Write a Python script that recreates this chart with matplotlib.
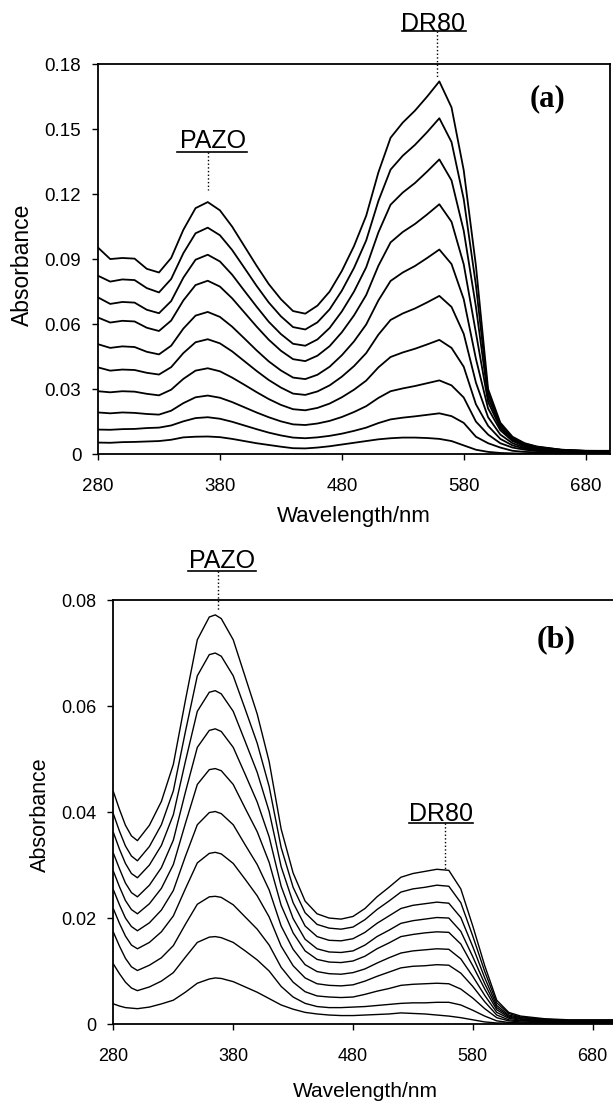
import numpy as np
import matplotlib
matplotlib.use('Agg')
import matplotlib.pyplot as plt

plt.rcParams['font.family'] = ['Liberation Sans', 'DejaVu Sans']

#Wavelength grid and absorbance spectra (top curve first) for panel (a)
wl_a = [280, 290, 300, 310, 320, 330, 340, 350, 360, 370, 380, 390, 400, 410, 420, 430, 440, 450, 460, 470,
        480, 490, 500, 510, 520, 530, 540, 550, 560, 570, 580, 590, 600, 610, 620, 630, 640, 660, 680, 700]
a0 = [.0953, .0900, .0905, .0902, .0855, .0838, .0905, .1035, .1135, .1163, .1125, .1050, .0960, .0870, .0785, .0715, .0660, .0648, .0685, .0750,
      .0845, .0960, .1100, .1300, .1460, .1530, .1585, .1650, .1720, .1600, .1310, .087, .030, .0145, .008, .005, .0035, .002, .0015, .0015]
a1 = [.0823, .0796, .0806, .0803, .0766, .0746, .0808, .0927, .1019, .1045, .1010, .0942, .0860, .0777, .0700, .0636, .0586, .0575, .0608, .0668,
      .0754, .0859, .0986, .1168, .1313, .1377, .1427, .1486, .1550, .1440, .1177, .078, .028, .014, .0075, .0048, .0033, .002, .0015, .0014]
a2 = [.0723, .0693, .0702, .0699, .0666, .0650, .0706, .0814, .0897, .0920, .0889, .0828, .0754, .0681, .0611, .0554, .0509, .0500, .0529, .0582,
      .0658, .0750, .0862, .1023, .1151, .1207, .1251, .1304, .1360, .1263, .1031, .068, .026, .013, .007, .0045, .003, .0019, .0014, .0014]
a3 = [.0630, .0607, .0615, .0612, .0583, .0568, .0616, .0709, .0780, .0800, .0773, .0719, .0654, .0589, .0528, .0477, .0438, .0429, .0454, .0498,
      .0562, .0640, .0734, .0869, .0977, .1025, .1062, .1106, .1153, .1072, .0876, .056, .024, .012, .0065, .004, .0028, .0017, .0013, .0013]
a4 = [.0507, .0490, .0497, .0494, .0472, .0460, .0500, .0579, .0639, .0656, .0633, .0588, .0534, .0479, .0428, .0386, .0353, .0346, .0366, .0403,
      .0456, .0520, .0598, .0709, .0799, .0838, .0868, .0905, .0944, .0877, .0715, .044, .021, .011, .006, .0036, .0025, .0015, .0012, .0012]
a5 = [.0400, .0385, .0390, .0388, .0375, .0367, .0401, .0466, .0516, .0530, .0511, .0474, .0429, .0384, .0342, .0307, .0279, .0273, .0289, .0317,
      .0357, .0406, .0466, .0551, .0619, .0649, .0672, .0700, .0730, .0679, .0555, .033, .017, .009, .005, .003, .0022, .0013, .0011, .0011]
a6 = [.0290, .0285, .0290, .0288, .0278, .0271, .0297, .0347, .0385, .0396, .0382, .0353, .0320, .0286, .0254, .0227, .0207, .0202, .0213, .0233,
      .0262, .0297, .0339, .0400, .0448, .0469, .0486, .0506, .0527, .0490, .0403, .023, .013, .007, .004, .0025, .0018, .0011, .0010, .0010]
a7 = [.0192, .0188, .0192, .0190, .0185, .0182, .0200, .0235, .0262, .0270, .0260, .0240, .0216, .0192, .0170, .0151, .0137, .0134, .0141, .0153,
      .0171, .0194, .0221, .0259, .0290, .0303, .0314, .0327, .0340, .0317, .0261, .015, .009, .005, .003, .002, .0014, .0009, .0008, .0008]
a8 = [.0113, .0112, .0115, .0116, .0120, .0122, .0132, .0151, .0166, .0170, .0163, .0149, .0132, .0115, .0099, .0086, .0076, .0073, .0077, .0084,
      .0094, .0107, .0122, .0143, .0160, .0168, .0174, .0181, .0188, .0175, .0144, .008, .005, .003, .0015, .001, .0008, .0006, .0005, .0005]
a9 = [.0053, .0052, .0055, .0056, .0058, .0060, .0066, .0077, .0080, .0081, .0078, .0070, .0060, .0050, .0042, .0034, .0027, .0026, .0030, .0036,
      .0044, .0052, .0060, .0068, .0073, .0076, .0076, .0074, .0070, .0060, .0040, .002, .001, .0005, .0003, .0002, .0002, .0002, .0002, .0002]

#Wavelength grid and absorbance spectra (top curve first) for panel (b)
wl_b = [280, 285, 290, 295, 300, 310, 320, 330, 340, 350, 360, 365, 370, 380, 390, 400, 410, 420, 430, 440, 450,
        460, 470, 480, 490, 500, 510, 520, 530, 540, 550, 560, 570, 580, 590, 600, 610, 620, 640, 660, 680, 700]
b0 = [.0438, .0405, .0375, .0355, .0346, .0375, .0420, .0490, .0610, .0725, .0768, .0772, .0765, .0725, .0655, .0585, .0495, .0368, .0285, .0232, .0208,
      .0200, .0198, .0203, .0218, .0240, .0258, .0277, .0284, .0288, .0292, .0290, .0255, .0185, .0110, .0045, .0022, .0015, .0010, .0008, .0008, .0008]
b1 = [.0396, .0364, .0336, .0317, .0308, .0335, .0376, .0440, .0551, .0657, .0697, .0700, .0694, .0657, .0594, .0530, .0448, .0333, .0258, .0210, .0188,
      .0181, .0179, .0183, .0197, .0216, .0232, .0249, .0255, .0258, .0262, .0260, .0229, .0166, .0099, .0040, .0020, .0013, .0009, .0007, .0007, .0007]
b2 = [.0361, .0330, .0303, .0284, .0276, .0300, .0337, .0395, .0495, .0590, .0626, .0629, .0623, .0590, .0533, .0475, .0401, .0297, .0229, .0185, .0165,
      .0158, .0157, .0161, .0173, .0190, .0204, .0218, .0224, .0227, .0230, .0228, .0201, .0146, .0087, .0035, .0017, .0012, .0008, .0006, .0006, .0006]
b3 = [.0322, .0293, .0266, .0248, .0240, .0262, .0295, .0347, .0437, .0522, .0554, .0557, .0552, .0522, .0471, .0419, .0353, .0260, .0199, .0160, .0142,
      .0136, .0135, .0138, .0149, .0165, .0177, .0190, .0195, .0198, .0201, .0200, .0175, .0127, .0076, .0031, .0015, .0010, .0007, .0005, .0005, .0005]
b4 = [.0288, .0259, .0233, .0216, .0208, .0227, .0256, .0301, .0378, .0452, .0480, .0482, .0478, .0452, .0407, .0363, .0305, .0224, .0172, .0138, .0122,
      .0117, .0116, .0119, .0128, .0142, .0153, .0165, .0169, .0172, .0174, .0173, .0151, .0110, .0066, .0027, .0013, .0009, .0006, .0005, .0005, .0005]
b5 = [.0253, .0225, .0200, .0184, .0176, .0191, .0215, .0252, .0316, .0376, .0399, .0401, .0397, .0376, .0338, .0301, .0253, .0185, .0141, .0112, .0099,
      .0095, .0094, .0097, .0104, .0115, .0125, .0134, .0138, .0140, .0142, .0141, .0123, .0090, .0054, .0022, .0011, .0007, .0005, .0004, .0004, .0004]
b6 = [.0217, .0190, .0166, .0149, .0142, .0154, .0174, .0204, .0255, .0304, .0322, .0324, .0321, .0303, .0273, .0242, .0202, .0147, .0110, .0087, .0076,
      .0073, .0072, .0074, .0081, .0090, .0098, .0106, .0109, .0110, .0112, .0111, .0096, .0071, .0042, .0017, .0008, .0006, .0004, .0003, .0003, .0003]
b7 = [.0173, .0147, .0124, .0108, .0101, .0111, .0125, .0148, .0188, .0226, .0240, .0241, .0239, .0225, .0202, .0179, .0149, .0107, .0079, .0061, .0053,
      .0051, .0050, .0051, .0056, .0062, .0067, .0073, .0075, .0076, .0077, .0076, .0066, .0049, .0029, .0012, .0006, .0004, .0003, .0002, .0002, .0002]
b8 = [.0113, .0095, .0079, .0068, .0063, .0070, .0081, .0097, .0126, .0154, .0164, .0165, .0163, .0154, .0138, .0121, .0100, .0071, .0051, .0039, .0033,
      .0031, .0031, .0032, .0033, .0035, .0037, .0039, .0040, .0040, .0041, .0041, .0036, .0026, .0015, .0006, .0003, .0002, .0002, .0002, .0002, .0002]
b9 = [.0038, .0034, .0031, .0030, .0029, .0032, .0038, .0045, .0060, .0077, .0085, .0087, .0086, .0080, .0070, .0060, .0048, .0036, .0028, .0022, .0019,
      .0017, .0016, .0016, .0017, .0018, .0019, .0021, .0020, .0019, .0017, .0015, .0012, .0008, .0004, .0002, .0002, .0002, .0002, .0002, .0002, .0002]

x_ticks = [280, 380, 480, 580, 680]
y_ticks_a = [0, 0.03, 0.06, 0.09, 0.12, 0.15, 0.18]
y_labels_a = ['0', '0.03', '0.06', '0.09', '0.12', '0.15', '0.18']
y_ticks_b = [0, 0.02, 0.04, 0.06, 0.08]
y_labels_b = ['0', '0.02', '0.04', '0.06', '0.08']


#Common styling of one panel
def style_panel(ax, yticks, ylabels, tick_size):
    ax.set_xlim(280, 700)
    ax.set_xticks(x_ticks)
    ax.set_yticks(yticks)
    ax.set_yticklabels(ylabels)
    ax.tick_params(direction='out', length=4, width=1, labelsize=tick_size)
    ax.tick_params(axis='x', pad=13)
    ax.tick_params(axis='y', pad=8)
    for s in ax.spines.values():
        s.set_linewidth(1.3)


#Underlined peak label with a dotted drop line to the peak
def peak_label(ax, text, x_text, y_text, x0, x1, y_under, x_line, y_end):
    ax.text(x_text, y_text, text, ha='center', va='center', fontsize=18, clip_on=False)
    ax.plot([x0, x1], [y_under, y_under], color='black', lw=1.2, clip_on=False)
    ax.plot([x_line, x_line], [y_under, y_end], color='black', lw=1.0, ls=':', clip_on=False)


fig = plt.figure(figsize=(6.13, 11.01), dpi=100)

#Panel (a)
ax1 = fig.add_axes([0.1599, 0.5876, 0.8352, 0.3542])
for curve in [a0, a1, a2, a3, a4, a5, a6, a7, a8, a9]:
    ax1.plot(wl_a, curve, color='black', lw=1.3)
ax1.set_ylim(0, 0.18)
style_panel(ax1, y_ticks_a, y_labels_a, 13.5)
peak_label(ax1, 'PAZO', 374, 0.1447, 345, 402.5, 0.1396, 370, 0.1217)
peak_label(ax1, 'DR80', 555, 0.1984, 529, 581.5, 0.1951, 558.4, 0.1735)
ax1.text(649, 0.1641, '(a)', ha='center', va='center', fontsize=22, fontweight='bold',
         family=['Liberation Serif', 'DejaVu Serif'])
fig.text(0.0359, 0.7593, 'Absorbance', rotation=90, ha='center', va='center', fontsize=16.5)
fig.text(0.5775, 0.5404, 'Wavelength/nm', ha='center', va='top', fontsize=16)

#Panel (b), its right edge runs slightly past the figure border
ax2 = fig.add_axes([0.1851, 0.0699, 0.8206, 0.3851])
for curve in [b0, b1, b2, b3, b4, b5, b6, b7, b8, b9]:
    ax2.plot(wl_b, curve, color='black', lw=1.0)
ax2.set_ylim(0, 0.08)
style_panel(ax2, y_ticks_b, y_labels_b, 13)
peak_label(ax2, 'PAZO', 370.6, 0.0874, 342.2, 398.9, 0.0855, 367.2, 0.0779)
peak_label(ax2, 'DR80', 553.4, 0.0396, 526.7, 580.1, 0.0379, 556.5, 0.0292)
ax2.text(649.4, 0.0726, '(b)', ha='center', va='center', fontsize=23, fontweight='bold',
         family=['Liberation Serif', 'DejaVu Serif'])
fig.text(0.0653, 0.2598, 'Absorbance', rotation=90, ha='center', va='center', fontsize=15.5)
fig.text(0.5954, 0.0173, 'Wavelength/nm', ha='center', va='top', fontsize=15)

fig.savefig('out.png', dpi=100)
